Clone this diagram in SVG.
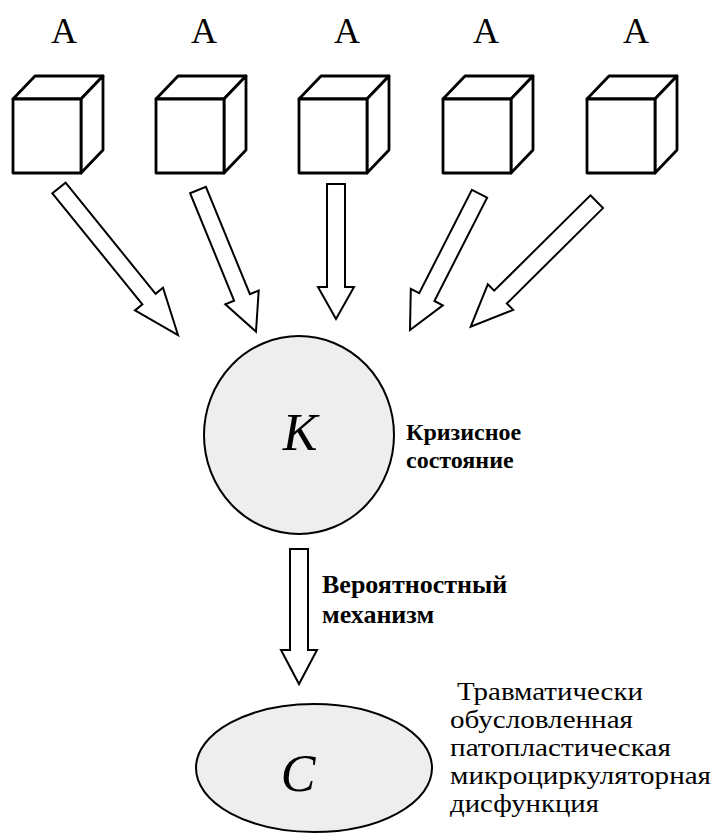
<svg xmlns="http://www.w3.org/2000/svg" width="714" height="839" viewBox="0 0 714 839">
  <style>
    .cube { fill: #ffffff; stroke: #000000; stroke-width: 2.8; stroke-linejoin: round; }
    .arrow { fill: #ffffff; stroke: #000000; stroke-width: 2; stroke-linejoin: miter; }
    .state { fill: #eeeeee; stroke: #000000; stroke-width: 2; }
    text { font-family: "Liberation Serif", "Times New Roman", serif; fill: #000000; }
    .lblA { font-size: 36px; text-anchor: middle; }
    .big { font-size: 52px; font-style: italic; text-anchor: middle; }
    .note { font-size: 24px; font-weight: bold; }
    .note2 { font-size: 26px; font-weight: bold; }
    .desc { font-size: 25px; }
  </style>
  <defs>
    <!-- cube: front face 68x74, depth offset (22,-23) -->
    <g id="cubeShape">
      <path class="cube" d="M0,23 L22,0 L90,0 L68,23 Z"/>
      <path class="cube" d="M68,23 L90,0 L90,74 L68,97 Z"/>
      <rect class="cube" x="0" y="23" width="68" height="74"/>
    </g>
  </defs>

  <!-- factor nodes -->
  <g id="factor1">
    <text class="lblA" x="64" y="43">A</text>
    <use href="#cubeShape" x="13" y="76"/>
  </g>
  <g id="factor2">
    <text class="lblA" x="204" y="43">A</text>
    <use href="#cubeShape" x="156" y="76"/>
  </g>
  <g id="factor3">
    <text class="lblA" x="347" y="43">A</text>
    <use href="#cubeShape" x="299" y="76"/>
  </g>
  <g id="factor4">
    <text class="lblA" x="486" y="43">A</text>
    <use href="#cubeShape" x="443" y="76"/>
  </g>
  <g id="factor5">
    <text class="lblA" x="636" y="43">A</text>
    <use href="#cubeShape" x="587" y="76"/>
  </g>

  <!-- crisis state -->
  <g id="crisis">
    <ellipse class="state" cx="299" cy="435" rx="95" ry="99"/>
    <text class="big" x="300" y="450">K</text>
    <text class="note" x="406" y="440">Кризисное</text>
    <text class="note" x="406" y="468">состояние</text>
  </g>

  <!-- outcome state -->
  <g id="outcome">
    <ellipse class="state" cx="314" cy="768" rx="118" ry="64"/>
    <text class="big" x="298" y="791">C</text>
    <text class="desc" x="457" y="700" textLength="186" lengthAdjust="spacingAndGlyphs">Травматически</text>
    <text class="desc" x="450" y="728" textLength="183" lengthAdjust="spacingAndGlyphs">обусловленная</text>
    <text class="desc" x="450" y="756" textLength="221" lengthAdjust="spacingAndGlyphs">патопластическая</text>
    <text class="desc" x="450" y="784" textLength="261" lengthAdjust="spacingAndGlyphs">микроциркуляторная</text>
    <text class="desc" x="450" y="812" textLength="149" lengthAdjust="spacingAndGlyphs">дисфункция</text>
  </g>

  <!-- block arrows -->
  <g id="connectors">
    <polygon class="arrow" points="52.4,193.3 65.6,182.7 155.6,293.8 163,287.8 178,335 135,310.4 142.4,304.4"/>
    <polygon class="arrow" points="190.1,193.2 205.9,186.8 249.9,294.2 258.7,290.6 256,331.7 225.3,304.2 234.1,300.6"/>
    <polygon class="arrow" points="327,184 345,184 345,287 354,287 336,319 318,287 327,287"/>
    <polygon class="arrow" points="471.9,189.8 487.1,197.6 434.4,301 442.8,305.3 410,330 410.8,288.9 419.2,293.2"/>
    <polygon class="arrow" points="590.4,195.3 603,208.1 506.8,303.5 513.2,309.9 470.7,326.7 487.8,284.3 494.2,290.7"/>
    <polygon class="arrow" points="290,549 308,549 308,650 317,650 299,684 281,650 290,650"/>
    <text class="note2" x="322" y="593">Вероятностный</text>
    <text class="note2" x="322" y="623">механизм</text>
  </g>
</svg>
